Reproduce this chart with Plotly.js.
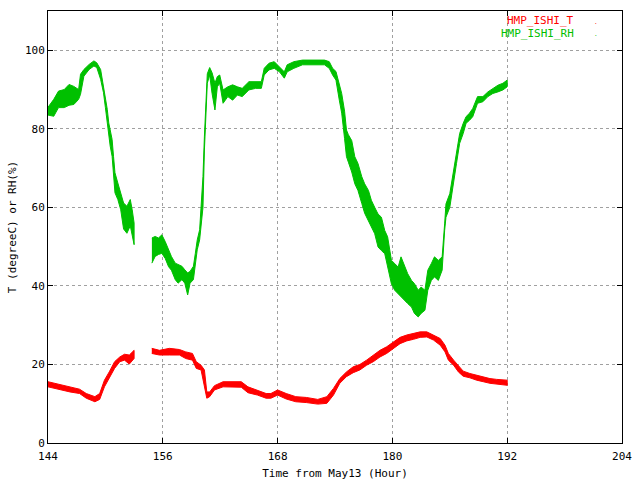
<!DOCTYPE html>
<html>
<head>
<meta charset="utf-8">
<script src="https://cdn.plot.ly/plotly-3.0.1.min.js"></script>
<style>
  body { margin: 0; background: #fff; }
  #plot { width: 640px; height: 480px; }
</style>
</head>
<body>
<div id="plot"></div>
<script>
// RH (%): time, lower and upper edge of the noisy band
var rhTime = [144.0, 144.6, 145.1, 145.7, 146.2, 146.7, 147.2, 147.4, 147.75, 148.3,
  148.8, 149.1, 149.5, 149.8, 150.0, 150.2, 150.35, 150.5, 150.7, 150.85,
  151.0, 151.3, 151.6, 151.9, 152.25, 152.6, 152.8, 153.0, null,
  154.86, 155.2, 155.55, 155.9, 156.25, 156.6, 156.9, 157.3, 157.6, 158.0,
  158.3, 158.6, 158.85, 159.2, 159.4, 159.6, 159.85, 160.05, 160.2, 160.35,
  160.5, 160.65, 160.9, 161.15, 161.45, 161.7, 161.95, 162.3, 162.8, 163.3,
  163.8, 164.3, 165.0, 165.7, 166.3, 166.6, 167.1, 167.65, 168.2, 168.7,
  169.0, 169.7, 170.6, 171.65, 172.9, 173.4, 173.75, 174.1, 174.45, 174.7,
  175.0, 175.2, 175.4, 175.75, 176.07, 176.4, 176.8, 177.1, 177.5, 177.8,
  178.15, 178.5, 178.85, 179.2, 179.5, 179.9, 180.24, 180.6, 180.9, 181.3,
  181.6, 182.0, 182.3, 182.7, 183.0, 183.4, 183.7, 184.07, 184.4, 184.8,
  185.2, 185.46, 185.6, 186.0, 186.3, 186.7, 187.03, 187.4, 187.7, 188.07,
  188.4, 188.9, 189.46, 189.98, 190.5, 191.03, 191.55, 192.0];
var rhLow = [83.5, 83.2, 85.4, 85.4, 86.0, 86.2, 87.5, 88.8, 93.4, 95.1,
  96.0, 95.6, 92.6, 89.2, 85.4, 82.4, 79.0, 75.6, 73.0, 68.8,
  63.7, 62.0, 59.4, 54.5, 53.4, 55.3, 52.6, 50.5, null,
  45.8, 47.5, 48.0, 48.3, 47.0, 44.9, 44.0, 41.6, 40.7, 41.6,
  40.7, 37.7, 40.7, 41.6, 45.0, 49.2, 51.7, 56.0, 60.0, 74.6,
  84.8, 91.6, 93.7, 89.0, 84.8, 90.7, 91.6, 86.5, 88.2, 87.3,
  88.6, 88.2, 89.9, 90.3, 90.3, 93.7, 95.0, 95.4, 94.5, 92.9,
  94.5, 95.4, 96.3, 96.3, 96.3, 95.4, 93.7, 92.4, 87.3, 84.0,
  77.5, 72.9, 71.5, 69.0, 66.0, 64.3, 61.0, 58.5, 56.7, 55.0,
  53.3, 49.9, 49.0, 48.2, 44.8, 40.5, 38.9, 38.0, 37.2, 36.3,
  35.5, 34.6, 33.0, 32.1, 33.0, 33.8, 38.9, 41.4, 42.3, 41.4,
  44.0, 54.1, 57.5, 60.0, 64.3, 71.2, 76.3, 78.8, 81.4, 82.2,
  83.1, 86.5, 86.9, 88.2, 89.0, 89.4, 89.9, 90.7];
var rhHigh = [85.5, 87.5, 89.6, 90.0, 91.3, 90.8, 90.0, 93.9, 95.1, 96.4,
  97.3, 96.8, 95.1, 90.9, 87.5, 84.9, 81.5, 79.8, 77.3, 73.0,
  68.8, 66.2, 63.7, 61.1, 60.3, 62.0, 59.4, 56.0, null,
  52.2, 52.6, 52.2, 53.0, 51.3, 49.2, 47.5, 45.8, 45.4, 45.0,
  44.1, 43.3, 43.7, 45.0, 48.3, 51.7, 54.3, 62.0, 67.9, 78.1,
  88.2, 94.0, 95.6, 94.3, 91.6, 93.3, 93.7, 89.9, 90.7, 91.2,
  90.7, 90.3, 92.0, 92.0, 92.0, 95.4, 96.7, 97.1, 95.8, 94.5,
  96.3, 97.1, 97.5, 97.5, 97.5, 97.1, 95.4, 94.6, 91.6, 89.0,
  84.5, 79.7, 78.5, 77.0, 72.9, 71.2, 67.8, 66.0, 64.3, 61.8,
  60.0, 58.3, 57.5, 54.1, 52.5, 46.5, 45.7, 44.8, 47.4, 44.8,
  43.1, 41.4, 40.6, 38.9, 39.7, 38.9, 44.0, 45.7, 47.4, 46.5,
  47.4, 55.8, 60.9, 63.5, 67.8, 74.6, 78.8, 81.4, 83.1, 84.0,
  85.2, 88.2, 88.2, 89.4, 90.3, 91.1, 91.6, 92.4];

// Temperature (degreeC): time, lower and upper edge
var tTime = [144.0, 145.0, 146.3, 147.3, 148.0, 148.9, 149.4, 149.9, 150.4, 150.96,
  151.5, 152.0, 152.5, 153.0, null,
  154.85, 155.65, 156.7, 157.74, 158.4, 159.1, 159.5, 160.0, 160.35, 160.6,
  160.9, 161.4, 162.3, 163.3, 164.2, 164.9, 165.9, 166.8, 167.3, 168.0,
  168.9, 169.9, 171.0, 172.2, 173.15, 173.84, 174.5, 175.2, 175.9, 176.6,
  177.3, 178.0, 178.7, 179.4, 180.1, 180.8, 181.5, 182.2, 182.9, 183.6,
  184.3, 185.0, 185.5, 185.85, 186.4, 186.9, 187.4, 188.1, 188.8, 189.5,
  190.2, 190.9, 192.0];
var tLow = [14.3, 13.7, 13.0, 12.6, 11.4, 10.5, 11.1, 14.3, 16.4, 19.0,
  20.7, 21.1, 20.1, 21.5, null,
  22.8, 22.4, 22.4, 22.4, 21.5, 21.1, 19.0, 18.6, 14.3, 11.4,
  11.8, 13.5, 14.3, 14.3, 14.2, 12.8, 12.2, 11.4, 11.4, 12.2,
  11.2, 10.5, 10.3, 9.9, 10.1, 12.2, 15.2, 16.9, 17.9, 18.6,
  19.8, 20.7, 21.9, 22.8, 24.1, 25.3, 26.0, 26.4, 26.9, 27.0,
  26.2, 24.9, 23.2, 21.1, 19.8, 18.1, 17.0, 16.6, 16.0, 15.6,
  15.2, 14.9, 14.7];
var tHigh = [15.6, 15.0, 14.3, 13.7, 12.6, 11.8, 12.6, 16.0, 18.1, 20.7,
  21.9, 22.6, 22.4, 23.6, null,
  24.1, 23.6, 24.1, 23.8, 23.2, 22.8, 20.7, 19.8, 18.6, 13.0,
  13.0, 14.6, 15.6, 15.6, 15.6, 14.3, 13.5, 12.6, 12.6, 13.5,
  12.6, 11.8, 11.6, 11.1, 11.8, 13.9, 16.4, 18.1, 19.4, 20.0,
  21.1, 22.4, 23.6, 24.5, 25.8, 26.9, 27.5, 27.9, 28.3, 28.3,
  27.5, 26.6, 24.9, 22.8, 21.1, 19.6, 18.3, 17.7, 17.3, 16.9,
  16.4, 16.2, 16.0];

var xTicks = [144, 156, 168, 180, 192, 204];
var yTicks = [0, 20, 40, 60, 80, 100];

// turn lower/upper edges into closed outlines, one per unbroken piece
function band(t, lo, hi) {
  var xs = [], ys = [], seg = [];
  function flush() {
    if (!seg.length) return;
    seg.forEach(function (i) { xs.push(t[i]); ys.push(hi[i]); });
    seg.slice().reverse().forEach(function (i) { xs.push(t[i]); ys.push(lo[i]); });
    xs.push(null); ys.push(null);
    seg = [];
  }
  for (var i = 0; i < t.length; i++) {
    if (t[i] === null) flush(); else seg.push(i);
  }
  flush();
  return {x: xs, y: ys};
}

var rh = band(rhTime, rhLow, rhHigh);
var tt = band(tTime, tLow, tHigh);

var trace1 = {
  x: tt.x, y: tt.y, name: 'HMP_ISHI_T', type: 'scatter', mode: 'lines',
  fill: 'toself', fillcolor: '#ff0000',
  line: {color: '#ff0000', width: 1}
};
var trace2 = {
  x: rh.x, y: rh.y, name: 'HMP_ISHI_RH', type: 'scatter', mode: 'lines',
  fill: 'toself', fillcolor: '#00c000',
  line: {color: '#00c000', width: 1}
};

var font = {family: 'DejaVu Sans Mono, monospace', size: 11, color: '#000'};

var axis = {
  showline: true, linecolor: '#000', linewidth: 1, mirror: 'ticks',
  ticks: 'inside', ticklen: 5, tickcolor: '#000',
  showgrid: true, gridcolor: '#a0a0a0', griddash: '3px,3px', gridwidth: 1,
  zeroline: false, tickfont: font
};

var layout = {
  width: 640, height: 480,
  margin: {l: 48, r: 18, t: 11, b: 37},
  paper_bgcolor: '#fff', plot_bgcolor: '#fff',
  showlegend: false,
  font: font,
  xaxis: Object.assign({}, axis, {
    range: [144, 204], tickvals: xTicks, ticklabelstandoff: 3,
    title: {text: 'Time from May13 (Hour)', font: font, standoff: 8}
  }),
  yaxis: Object.assign({}, axis, {
    range: [0, 110], tickvals: yTicks,
    title: {text: 'T (degreeC) or RH(%)', font: font, standoff: 6}
  }),
  annotations: [
    {xref: 'paper', yref: 'paper', x: 0.92, y: 0.9769, xanchor: 'right', yanchor: 'middle',
      text: 'HMP_ISHI_T', showarrow: false, height: 13, font: Object.assign({}, font, {color: '#ff0000'})},
    {xref: 'paper', yref: 'paper', x: 0.92, y: 0.9468, xanchor: 'right', yanchor: 'middle',
      text: 'HMP_ISHI_RH', showarrow: false, height: 13, font: Object.assign({}, font, {color: '#00c000'})},
    {xref: 'paper', yref: 'paper', x: 0.955, y: 0.975, xanchor: 'center', yanchor: 'middle',
      text: '.', showarrow: false, font: Object.assign({}, font, {color: '#ff0000', size: 6})},
    {xref: 'paper', yref: 'paper', x: 0.955, y: 0.949, xanchor: 'center', yanchor: 'middle',
      text: '.', showarrow: false, font: Object.assign({}, font, {color: '#00c000', size: 6})}
  ]
};

Plotly.newPlot('plot', [trace1, trace2], layout, {staticPlot: true});
</script>
</body>
</html>
